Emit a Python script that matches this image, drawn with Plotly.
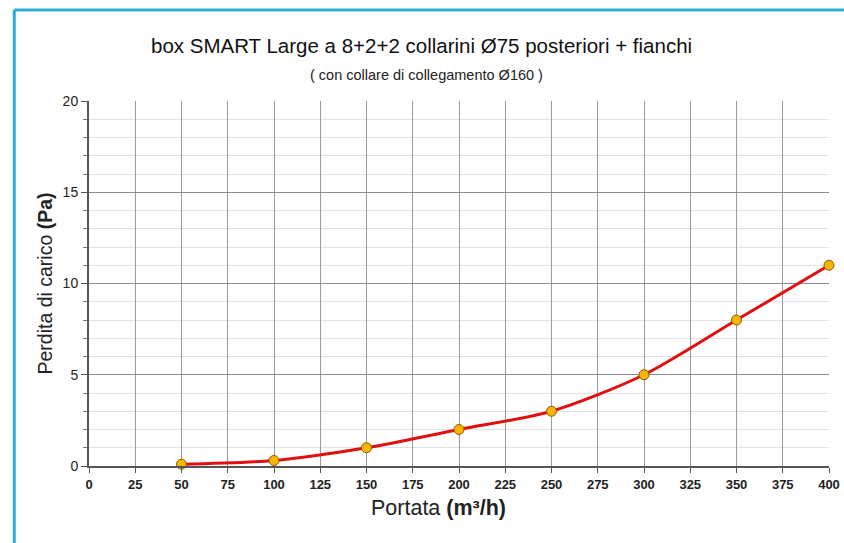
import plotly.graph_objects as go

portata = [50, 100, 150, 200, 250, 300, 350, 400]
perdita = [0.1, 0.3, 1, 2, 3, 5, 8, 11]
x_ticks = list(range(0, 401, 25))
y_ticks = [0, 5, 10, 15, 20]

title_text = "box SMART Large a 8+2+2 collarini Ø75 posteriori + fianchi"
subtitle_text = "( con collare di collegamento Ø160 )"
x_title = "Portata <b>(m³/h)</b>"
y_title = "Perdita di carico <b>(Pa)</b>"

fig = go.Figure()
fig.add_trace(go.Scatter(
    x=portata, y=perdita, mode="lines+markers",
    line=dict(color="#e01010", width=3, shape="spline", smoothing=0.8),
    marker=dict(size=10, color="#f7b500", line=dict(color="#8a5a00", width=1)),
    showlegend=False, cliponaxis=False,
))

sans = "Liberation Sans, Arial, sans-serif"

fig.update_layout(
    width=844, height=543,
    margin=dict(l=89, r=15, t=101, b=77),
    paper_bgcolor="white", plot_bgcolor="white",
    font=dict(family=sans, color="#222"),
    xaxis=dict(
        range=[0, 400], tickvals=x_ticks, ticktext=[str(v) for v in x_ticks],
        automargin=False,
        showgrid=True, gridcolor="#9a9a9a", gridwidth=1,
        showline=True, linecolor="#555", linewidth=2,
        ticks="outside", ticklen=5, tickcolor="#555",
        tickfont=dict(family=sans, size=13, color="#222", weight="bold"),
        zeroline=False, mirror=False,
    ),
    yaxis=dict(
        range=[0, 20], tickvals=y_ticks,
        automargin=False,
        showgrid=True, gridcolor="#8a8a8a", gridwidth=1,
        showline=True, linecolor="#555", linewidth=2,
        ticks="outside", ticklen=6, tickcolor="#555",
        tickfont=dict(family=sans, size=14, color="#222"),
        minor=dict(dtick=1, ticks="outside", ticklen=4, tickcolor="#777",
                   showgrid=True, gridcolor="#e2e2e2", gridwidth=1),
        title=dict(text=y_title, font=dict(family=sans, size=19.5, color="#222"), standoff=5),
        zeroline=False,
    ),
    annotations=[
        dict(text=title_text, xref="paper", yref="paper", x=0.449, y=1, xanchor="center",
             yshift=56, yanchor="middle", showarrow=False,
             font=dict(family=sans, size=20.5, color="#111")),
        dict(text=subtitle_text, xref="paper", yref="paper", x=0.456, y=1, xanchor="center",
             yshift=26, yanchor="middle", showarrow=False,
             font=dict(family=sans, size=14.5, color="#222")),
        dict(text=x_title, xref="paper", yref="paper", x=0.472, y=0, xanchor="center",
             yshift=-42, yanchor="middle", showarrow=False,
             font=dict(family=sans, size=21.5, color="#222")),
    ],
    shapes=[
        dict(type="line", xref="paper", yref="paper", x0=-0.101, x1=1.03, y0=1.249, y1=1.249,
             line=dict(color="#2aaed6", width=3)),
        dict(type="line", xref="paper", yref="paper", x0=-0.101, x1=-0.101, y0=1.249, y1=-0.22,
             line=dict(color="#2aaed6", width=3)),
    ],
)

fig.write_html("out.html", config={"displayModeBar": False},
               post_script="document.body.style.margin='0';document.body.style.overflow='hidden';")
